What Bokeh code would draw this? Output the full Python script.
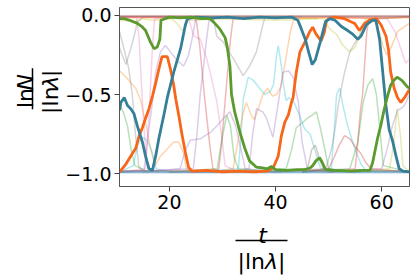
import math
from bokeh.plotting import figure
from bokeh.models import Range1d, FixedTicker, ColumnDataSource, Label
from bokeh.layouts import column, row
from bokeh.embed import file_html
from bokeh.resources import INLINE

# ---------------- data ----------------
x_ticks = [20, 40, 60]
y_ticks = [-1.0, -0.5, 0.0]
y_tick_labels = ["\u22121.0", "\u22120.5", "0.0"]

blue_t = [10.59, 10.85, 11.5, 12.1, 12.7, 13.3, 13.96, 14.9, 15.5, 16.15, 16.8, 17.4, 18.0, 18.95,
          19.6, 20.8, 22.1, 23.0, 23.4, 25, 28, 31, 34, 37, 40, 43, 44.2, 44.8, 45.6, 46.3,
          46.9, 47.5, 48.4, 49.4, 50.2, 51.2, 52.4, 53.6, 54.6, 55.5, 56.1, 57.1, 58.3, 58.9,
          59.6, 60.2, 60.8, 61.4, 62.1, 62.7, 63.3, 64.0, 65.2]
blue_y = [-0.60, -0.55, -0.52, -0.57, -0.59, -0.62, -0.70, -0.80, -0.89, -0.97, -0.98, -0.89,
          -0.78, -0.63, -0.52, -0.36, -0.21, -0.06, -0.02, -0.01, -0.015, -0.01, -0.02, -0.01,
          -0.015, -0.01, -0.03, -0.08, -0.15, -0.24, -0.31, -0.28, -0.17, -0.04, -0.02, -0.03,
          -0.07, -0.095, -0.12, -0.15, -0.13, -0.06, -0.03, -0.03, -0.15, -0.36, -0.57, -0.72,
          -0.80, -0.89, -0.97, -0.985, -0.99]

orange_t = [10.59, 10.85, 11.8, 12.7, 13.65, 14.3, 14.9, 15.5, 16.15, 16.8, 17.4, 18.0, 18.6,
            19.6, 20.2, 20.8, 21.2, 21.75, 22.4, 23.0, 23.6, 24.2, 27, 30, 33, 36, 38.5, 39.6,
            40.5, 41.1, 41.75, 42.4, 43.0, 43.3, 43.9, 44.6, 45.5, 46.4, 47.0, 47.6, 48.6, 49.2,
            49.6, 51, 53, 54.9, 55.8, 56.8, 57.7, 59.0, 59.9, 60.8, 61.3, 61.7, 62.35, 63.0,
            63.6, 64.3, 65.2]
orange_y = [-0.99, -0.98, -0.94, -0.89, -0.84, -0.76, -0.71, -0.65, -0.59, -0.51, -0.43, -0.34,
            -0.26, -0.26, -0.34, -0.44, -0.53, -0.63, -0.76, -0.865, -0.96, -0.985, -0.98,
            -0.99, -0.985, -0.99, -0.985, -0.96, -0.89, -0.76, -0.675, -0.63, -0.55, -0.52,
            -0.36, -0.23, -0.17, -0.105, -0.074, -0.116, -0.16, -0.105, -0.03, -0.01, -0.02,
            -0.05, -0.095, -0.05, -0.03, -0.02, -0.06, -0.13, -0.22, -0.36, -0.46, -0.52,
            -0.55, -0.52, -0.47]

green_t = [10.59, 11.5, 12.5, 13.96, 14.8, 15.5, 16.45, 17.1, 17.7, 18.2, 18.4, 20, 22, 24,
           26, 27.6, 28.3, 29.5, 30.5, 30.9, 31.4, 31.7, 32.3, 33.3, 34.2, 35.1, 36.4, 37.5,
           38.5, 39.2, 40, 42, 44, 45.5, 46.5, 47.0, 47.6, 48.3, 48.8, 49.4, 51, 54, 56, 57.8,
           58.3, 59.2, 59.8, 60.5, 61.1, 61.7, 62.3, 62.9, 63.8, 64.8, 65.2]
green_y = [-0.02, -0.02, -0.03, -0.05, -0.07, -0.095, -0.17, -0.21, -0.20, -0.15, -0.03, -0.01,
           -0.015, -0.01, -0.02, -0.02, -0.04, -0.085, -0.14, -0.20, -0.32, -0.50, -0.61, -0.74,
           -0.84, -0.92, -0.96, -0.965, -0.97, -0.955, -0.975, -0.98, -0.975, -0.975, -0.965,
           -0.95, -0.92, -0.90, -0.93, -0.975, -0.98, -0.985, -0.98, -0.98, -0.93, -0.78, -0.70,
           -0.59, -0.51, -0.44, -0.41, -0.39, -0.41, -0.45, -0.46]

# faint trajectories
grey_a_t = [10.59, 10.85, 11.8, 12.7, 13.35, 13.96, 15, 20]
grey_a_y = [-0.20, -0.23, -0.31, -0.21, -0.13, -0.04, -0.01, -0.01]
grey_b_t = [10.59, 11.5, 12.3, 13.0, 13.6, 14.2, 15]
grey_b_y = [-0.10, -0.22, -0.33, -0.50, -0.75, -0.95, -0.99]
orange_a_t = [10.59, 12.1, 13.65, 14.6, 15.5, 16.5, 17.3, 18.3, 20.8, 21.75, 22.7, 23.2, 25]
orange_a_y = [-0.35, -0.40, -0.46, -0.54, -0.68, -0.85, -0.95, -0.89, -0.80, -0.80, -0.875, -0.97, -0.99]
pink_a_t = [10.59, 13.8, 14.3, 14.6, 15.0, 15.5, 16.0, 18]
pink_a_y = [-0.01, -0.01, -0.15, -0.36, -0.60, -0.85, -0.97, -0.99]
purple_a_t = [10.59, 15.2, 15.5, 16.0, 16.8, 17.4, 18.3, 19.25, 20.2, 21.45, 22.7, 23.6, 24.25, 24.9, 27]
purple_a_y = [-0.99, -0.98, -0.90, -0.75, -0.55, -0.36, -0.23, -0.19, -0.23, -0.285, -0.32, -0.25, -0.15, -0.03, -0.01]
pink_b_t = [10.59, 23.5, 24.6, 25.8, 26.4, 27.0, 27.6, 28.9, 29.8, 30.5, 33]
pink_b_y = [-0.01, -0.01, -0.13, -0.15, -0.21, -0.27, -0.35, -0.54, -0.75, -0.95, -0.99]
red_a_t = [10.59, 24.5, 25.1, 25.7, 26.6, 27.6, 28.2, 30]
red_a_y = [-0.01, -0.01, -0.04, -0.19, -0.51, -0.82, -0.97, -0.99]
red_b_t = [20, 28.8, 29.3, 29.8, 30.7, 31.5, 32.0, 35]
red_b_y = [-0.99, -0.99, -0.97, -0.82, -0.46, -0.15, -0.02, -0.01]
grey_c_t = [20, 28.3, 28.9, 30.2, 31.0, 32.0, 33.9, 35.1, 36.4, 37.6, 38.0, 45]
grey_c_y = [-0.01, -0.02, -0.13, -0.17, -0.22, -0.27, -0.38, -0.32, -0.23, -0.06, -0.01, -0.01]
cyan_a_t = [25, 33.0, 33.4, 33.9, 34.85, 35.8, 37.0, 38.0, 39.0, 39.6, 40.2, 40.5, 41.1, 41.4,
            42.0, 42.5, 43.5, 44.5, 45.5, 46.5, 47.5, 48.5, 55]
cyan_a_y = [-0.99, -0.97, -0.80, -0.53, -0.39, -0.41, -0.46, -0.50, -0.48, -0.44, -0.25, -0.19,
            -0.32, -0.42, -0.54, -0.52, -0.55, -0.63, -0.72, -0.75, -0.86, -0.97, -0.99]
cyan_b_t = [45, 50.5, 51.0, 51.5, 52.1, 52.7, 53.6, 54.9, 56.1, 57.0, 65.2]
cyan_b_y = [-0.99, -0.97, -0.75, -0.50, -0.46, -0.57, -0.70, -0.84, -0.94, -0.98, -0.99]
cyan_c_t = [10.59, 13.2, 14.0, 14.9, 15.8, 16.6, 17.5, 20]
cyan_c_y = [-0.99, -0.95, -0.82, -0.77, -0.79, -0.85, -0.97, -0.99]
orange_b_t = [28, 32.0, 33.2, 33.8, 34.5, 35.4, 36.0, 36.95, 37.6, 38.5, 39.4, 40.2, 41.0, 41.8, 42.8, 43.5, 50]
orange_b_y = [-0.99, -0.97, -0.74, -0.63, -0.55, -0.63, -0.66, -0.57, -0.50, -0.46, -0.51, -0.50, -0.45, -0.30, -0.10, -0.02, -0.01]
purple_b_t = [15, 22.0, 23.0, 23.9, 25.8, 27.7, 28.9, 30.2, 31.4, 32.5, 33.5, 34.3, 40]
purple_b_y = [-0.99, -0.97, -0.85, -0.79, -0.78, -0.74, -0.70, -0.65, -0.61, -0.70, -0.85, -0.97, -0.99]
purple_c_t = [30, 35.0, 35.7, 36.4, 37.6, 38.3, 39.5, 40.3, 41.4, 42.4, 43.3, 44.3, 45.0, 46, 50]
purple_c_y = [-0.99, -0.97, -0.75, -0.59, -0.61, -0.65, -0.77, -0.60, -0.36, -0.35, -0.39, -0.55, -0.80, -0.97, -0.99]
green_a_t = [35, 42.0, 43.0, 43.9, 45.0, 46.0, 46.9, 47.7, 48.5, 49.3, 50.0, 56]
green_a_y = [-0.99, -0.97, -0.85, -0.71, -0.68, -0.65, -0.63, -0.61, -0.72, -0.85, -0.97, -0.99]
green_b_t = [45, 54.0, 55.5, 56.5, 57.4, 58.3, 59.0, 59.6, 60.3, 65.2]
green_b_y = [-0.99, -0.97, -0.80, -0.55, -0.44, -0.40, -0.50, -0.70, -0.95, -0.99]
grey_d_t = [40, 49.5, 50.5, 51.2, 51.8, 52.4, 53.0, 54.0, 55.0, 56.0, 57.0, 58.0, 65.2]
grey_d_y = [-0.99, -0.97, -0.85, -0.72, -0.57, -0.46, -0.36, -0.23, -0.17, -0.12, -0.05, -0.02, -0.01]
red_c_t = [45, 50.0, 51.0, 52.0, 53.0, 54.0, 55.0, 56.0, 57.0, 58.0, 65.2]
red_c_y = [-0.99, -0.97, -0.90, -0.82, -0.76, -0.78, -0.83, -0.87, -0.93, -0.97, -0.99]
red_d_t = [50, 55.0, 55.5, 56.0, 56.4, 56.8, 57.2, 57.6, 65.2]
red_d_y = [-0.99, -0.97, -0.80, -0.60, -0.50, -0.30, -0.10, -0.02, -0.01]
olive_a_t = [40, 49.0, 50.2, 51.5, 52.5, 53.9, 55.0, 56.0, 57.0, 65.2]
olive_a_y = [-0.01, -0.02, -0.085, -0.12, -0.18, -0.23, -0.20, -0.10, -0.02, -0.01]
olive_b_t = [55, 61.5, 62.3, 62.9, 63.5, 64.0, 65.2]
olive_b_y = [-0.99, -0.97, -0.80, -0.59, -0.75, -0.95, -0.99]
olive_c_t = [10.59, 13.5, 15, 17, 20.5, 21.4, 22.4, 23.0, 23.5, 30, 40, 48]
olive_c_y = [-0.03, -0.04, -0.02, -0.03, -0.02, -0.05, -0.095, -0.08, -0.03, -0.02, -0.03, -0.02]
pink_c_t = [50, 61.0, 62.5, 63.6, 64.5, 65.2]
pink_c_y = [-0.01, -0.02, -0.10, -0.21, -0.30, -0.28]
purple_d_t = [50, 60.0, 61.0, 62.0, 63.0, 64.0, 64.6, 65.2]
purple_d_y = [-0.99, -0.97, -0.85, -0.70, -0.60, -0.58, -0.55, -0.50]
pink_d_t = [10.59, 15.5, 16.2, 16.8, 17.2, 25]
pink_d_y = [-0.99, -0.97, -0.60, -0.20, -0.02, -0.01]
purple_e_t = [10.59, 24.5, 25.2, 25.8, 26.5, 27.0, 27.5, 35]
purple_e_y = [-0.99, -0.97, -0.75, -0.50, -0.30, -0.15, -0.02, -0.01]
green_c_t = [10.59, 11.5, 12.1, 12.8, 13.5, 16]
green_c_y = [-0.55, -0.63, -0.70, -0.85, -0.95, -0.99]
green_d_t = [20, 29.0, 29.8, 30.8, 31.5, 32.2, 33.0, 40]
green_d_y = [-0.99, -0.97, -0.80, -0.63, -0.70, -0.90, -0.97, -0.99]
brown_a_t = [40, 46.0, 46.8, 47.5, 48.2, 49.0, 55]
brown_a_y = [-0.99, -0.97, -0.85, -0.82, -0.90, -0.97, -0.99]
orange_c_t = [50, 58.5, 59.5, 60.3, 61.0, 61.8, 63.0, 65.2]
orange_c_y = [-0.01, -0.02, -0.10, -0.20, -0.25, -0.20, -0.10, -0.05]

# trajectories resting on the two plateaus for the whole time window
plateau_t = [10.59, 65.3]
top_levels = [-0.003, -0.007, -0.011, -0.005, -0.015]
bottom_levels = [-0.985, -0.99, -0.995, -0.988, -0.982]

# ---------------- styling ----------------
C_BLUE, C_ORANGE, C_GREEN = "#1f77b4", "#ff7f0e", "#2ca02c"
C_RED, C_PURPLE, C_BROWN = "#d62728", "#9467bd", "#8c564b"
C_PINK, C_GREY, C_OLIVE, C_CYAN = "#e377c2", "#7f7f7f", "#bcbd22", "#17becf"

faint = [
    (grey_a_t, grey_a_y, C_GREY), (grey_b_t, grey_b_y, C_GREY),
    (orange_a_t, orange_a_y, C_ORANGE), (pink_a_t, pink_a_y, C_PINK),
    (purple_a_t, purple_a_y, C_PURPLE), (pink_b_t, pink_b_y, C_PINK),
    (red_a_t, red_a_y, C_RED), (red_b_t, red_b_y, C_RED),
    (grey_c_t, grey_c_y, C_GREY), (cyan_a_t, cyan_a_y, C_CYAN),
    (cyan_b_t, cyan_b_y, C_CYAN), (cyan_c_t, cyan_c_y, C_CYAN),
    (orange_b_t, orange_b_y, C_ORANGE), (purple_b_t, purple_b_y, C_PURPLE),
    (purple_c_t, purple_c_y, C_PURPLE), (green_a_t, green_a_y, C_GREEN),
    (green_b_t, green_b_y, C_GREEN), (grey_d_t, grey_d_y, C_GREY),
    (red_c_t, red_c_y, C_RED), (red_d_t, red_d_y, C_RED),
    (olive_a_t, olive_a_y, C_OLIVE), (olive_b_t, olive_b_y, C_OLIVE),
    (olive_c_t, olive_c_y, C_OLIVE), (pink_c_t, pink_c_y, C_PINK),
    (purple_d_t, purple_d_y, C_PURPLE), (pink_d_t, pink_d_y, C_PINK),
    (purple_e_t, purple_e_y, C_PURPLE), (green_c_t, green_c_y, C_GREEN),
    (green_d_t, green_d_y, C_GREEN), (brown_a_t, brown_a_y, C_BROWN),
    (orange_c_t, orange_c_y, C_ORANGE),
]
top_colors = [C_RED, C_BROWN, C_PINK, C_GREY, C_ORANGE]
bottom_colors = [C_GREY, C_PURPLE, C_BLUE, C_CYAN, C_BROWN]
for lvl, col in zip(top_levels, top_colors):
    faint.append((plateau_t, [lvl, lvl], col))
for lvl, col in zip(bottom_levels, bottom_colors):
    faint.append((plateau_t, [lvl, lvl], col))

# ---------------- layout (pixels of the 416x275 page) ----------------
PAGE_W, PAGE_H = 416, 275
YLAB_W = 62            # strip left of the main plot holding the y label
MAIN_H = 218           # height of the main plot row
FRAME_L, FRAME_R, FRAME_T, FRAME_B = 117, 409, 7, 186

X0, X1 = 10.59, 65.24
Y0, Y1 = -1.082, 0.0506

p = figure(width=PAGE_W - YLAB_W, height=MAIN_H, output_backend="svg",
           toolbar_location=None, x_range=Range1d(X0, X1), y_range=Range1d(Y0, Y1),
           min_border_left=FRAME_L - YLAB_W, min_border_right=PAGE_W - FRAME_R,
           min_border_top=FRAME_T, min_border_bottom=MAIN_H - FRAME_B)
p.background_fill_color = "white"
p.border_fill_color = "white"
p.grid.visible = False
p.outline_line_color = "#555555"
p.outline_line_width = 1

fsrc = ColumnDataSource(dict(xs=[f[0] for f in faint], ys=[f[1] for f in faint],
                             c=[f[2] for f in faint]))
p.multi_line("xs", "ys", source=fsrc, line_color="c", line_alpha=0.33, line_width=1.5)

p.line(orange_t, orange_y, line_color="#f8661a", line_width=2.8)
p.line(blue_t, blue_y, line_color="#357f98", line_width=2.8)
p.line(green_t, green_y, line_color="#5a9a2e", line_width=2.8)

p.xaxis.ticker = FixedTicker(ticks=x_ticks)
p.yaxis.ticker = FixedTicker(ticks=y_ticks)
p.yaxis.major_label_overrides = {t: s for t, s in zip(y_ticks, y_tick_labels)}
for ax in (p.xaxis[0], p.yaxis[0]):
    ax.axis_line_color = "#555555"
    ax.major_tick_line_color = "#444444"
    ax.major_tick_out = 5
    ax.major_tick_in = 0
    ax.minor_tick_out = 0
    ax.minor_tick_in = 0
    ax.major_label_text_font = "DejaVu Sans"
    ax.major_label_text_font_size = "19px"
    ax.major_label_text_color = "black"
    ax.major_label_standoff = 3


class Strip:
    """A bare figure whose data units are page pixels (x right, page-y down)."""

    def __init__(self, w, h, left, top):
        self.left, self.top, self.h = left, top, h
        self.f = figure(width=w, height=h, output_backend="svg", toolbar_location=None,
                        x_range=Range1d(0, w), y_range=Range1d(0, h),
                        x_axis_type=None, y_axis_type=None, min_border=0)
        self.f.outline_line_color = None
        self.f.background_fill_color = "white"
        self.f.border_fill_color = "white"

    def X(self, px):
        return px - self.left

    def Y(self, py):
        return self.top + self.h - py

    def lab(self, text, px, py, angle=0.0, italic=False, align="left"):
        self.f.add_layout(Label(x=self.X(px), y=self.Y(py), text=text,
                                angle=angle, angle_units="deg",
                                text_font="DejaVu Sans", text_font_size="22px",
                                text_font_style="italic" if italic else "normal",
                                text_align=align, text_baseline="alphabetic",
                                text_color="black"))

    def bar(self, px0, py0, px1, py1):
        self.f.segment(x0=[self.X(px0)], y0=[self.Y(py0)], x1=[self.X(px1)],
                       y1=[self.Y(py1)], line_color="black", line_width=1.5)


# y-axis label: ln N / |ln lambda|  (rotated, reads bottom-to-top;
# each piece is anchored at its upper end)
yl = Strip(YLAB_W, MAIN_H, 0, 0)
yl.lab("ln", 25, 98, 90, align="right")
yl.lab("N", 25, 81, 90, italic=True, align="right")
yl.bar(32, 74, 32, 124)
yl.lab("|ln", 49.5, 96.1, 90, align="right")
yl.lab("\u03bb", 49.5, 83.1, 90, italic=True, align="right")
yl.lab("|", 49.5, 75.7, 90, align="right")

# x-axis label: t / |ln lambda|
xl = Strip(PAGE_W, PAGE_H - MAIN_H, 0, MAIN_H)
xl.lab("t", 262, 235, italic=True, align="center")
xl.bar(235, 240, 287, 240)
xl.lab("|ln", 237, 261)
xl.lab("\u03bb", 264.4, 261, italic=True)
xl.lab("|", 277.4, 261)

layout = column(row(yl.f, p), xl.f)
open("out.html", "w").write(file_html(layout, INLINE))
